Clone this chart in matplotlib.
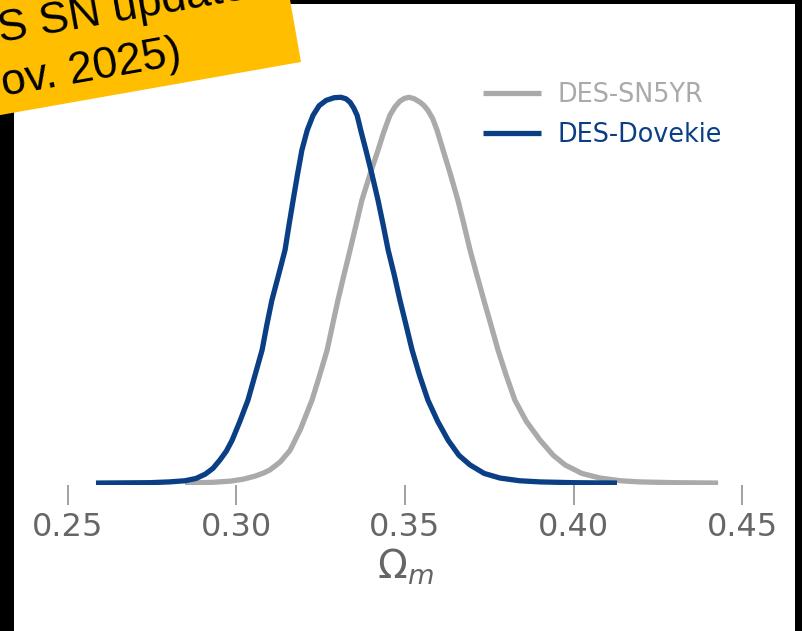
import matplotlib
matplotlib.use("Agg")
import matplotlib.pyplot as plt
from matplotlib.patches import Rectangle, Polygon
import numpy as np

# Omega_m posterior curves (normalised to peak = 1)
om_sn5yr = [0.2847, 0.2930, 0.2981, 0.3020, 0.3055, 0.3080, 0.3099, 0.3130,
            0.3159, 0.3190, 0.3224, 0.3247, 0.3269, 0.3285, 0.3301, 0.3319,
            0.3337, 0.3355, 0.3372, 0.3396, 0.3420, 0.3437, 0.3455, 0.3470,
            0.3485, 0.3498, 0.3512, 0.3528, 0.3545, 0.3557, 0.3568, 0.3582,
            0.3595, 0.3613, 0.3635, 0.3657, 0.3675, 0.3693, 0.3713, 0.3734,
            0.3755, 0.3776, 0.3800, 0.3826, 0.3860, 0.3901, 0.3940, 0.3975,
            0.4025, 0.4079, 0.4140, 0.4197, 0.4300, 0.4429]
p_sn5yr = [0.000, 0.002, 0.005, 0.010, 0.018, 0.026, 0.034, 0.055,
           0.085, 0.140, 0.215, 0.280, 0.345, 0.410, 0.474, 0.540,
           0.604, 0.670, 0.733, 0.800, 0.863, 0.910, 0.953, 0.975,
           0.990, 0.997, 1.000, 0.996, 0.987, 0.978, 0.966, 0.945,
           0.915, 0.863, 0.800, 0.733, 0.670, 0.604, 0.540, 0.474,
           0.410, 0.345, 0.280, 0.215, 0.160, 0.111, 0.072, 0.047,
           0.025, 0.013, 0.006, 0.003, 0.001, 0.000]

om_dovekie = [0.2583, 0.2743, 0.2800, 0.2847, 0.2880, 0.2907, 0.2930, 0.2951,
              0.2970, 0.2987, 0.3010, 0.3034, 0.3055, 0.3076, 0.3090, 0.3105,
              0.3125, 0.3144, 0.3156, 0.3168, 0.3181, 0.3194, 0.3210, 0.3227,
              0.3245, 0.3266, 0.3290, 0.3310, 0.3325, 0.3337, 0.3348, 0.3358,
              0.3370, 0.3384, 0.3402, 0.3420, 0.3435, 0.3450, 0.3468, 0.3485,
              0.3503, 0.3521, 0.3543, 0.3568, 0.3597, 0.3628, 0.3660, 0.3693,
              0.3735, 0.3782, 0.3840, 0.3901, 0.4000, 0.4129]
p_dovekie = [0.000, 0.001, 0.003, 0.006, 0.012, 0.023, 0.038, 0.060,
             0.083, 0.111, 0.160, 0.215, 0.280, 0.345, 0.410, 0.474,
             0.540, 0.604, 0.670, 0.733, 0.800, 0.863, 0.915, 0.953,
             0.978, 0.992, 0.999, 1.000, 0.996, 0.987, 0.972, 0.953,
             0.910, 0.863, 0.800, 0.733, 0.670, 0.604, 0.540, 0.474,
             0.410, 0.345, 0.280, 0.215, 0.160, 0.111, 0.072, 0.047,
             0.025, 0.013, 0.006, 0.003, 0.001, 0.000]

xticks = [0.25, 0.30, 0.35, 0.40, 0.45]
labels = ["DES-SN5YR", "DES-Dovekie"]
banner_lines = ["DES SN update", "(Nov. 2025)"]

grey = "#aaaaaa"
blue = "#0b3f85"
W, H = 803, 631


def fx(px):
    return px / W


def fy(py):
    return 1 - py / H


fig = plt.figure(figsize=(8.03, 6.31), dpi=100, facecolor="black")
# white panel inside the black frame
fig.patches.append(Rectangle((fx(14), 0), fx(795) - fx(14), fy(4),
                             transform=fig.transFigure, fc="white", ec="none", zorder=-1))

ax = fig.add_axes([fx(34.3), fy(485), fx(775.7) - fx(34.3), fy(78) - fy(485)])
ax.set_zorder(1)
ax.set_facecolor("none")
ax.plot(om_sn5yr, p_sn5yr, color=grey, lw=3.8, label=labels[0],
        solid_capstyle="butt", solid_joinstyle="round")
ax.plot(om_dovekie, p_dovekie, color=blue, lw=3.8, label=labels[1],
        solid_capstyle="butt", solid_joinstyle="round")
ax.set_xlim(0.24, 0.46)
ax.set_ylim(-0.005, 1.05)
for s in ax.spines.values():
    s.set_visible(False)
ax.set_yticks([])
ax.set_xticks(xticks)
ax.set_xticklabels([f"{t:.2f}" for t in xticks])
ax.tick_params(axis="x", length=14.4, width=1.1, color="#888888",
               labelcolor="#666666", labelsize=23, pad=5)
ax.set_xlabel(r"$\Omega_m$", fontsize=28, color="#666666", labelpad=3)

leg = fig.legend(loc="upper left", bbox_to_anchor=(fx(473), fy(72)), frameon=False,
                 fontsize=18.4, handlelength=2.25, handletextpad=0.66, labelspacing=0.55,
                 borderaxespad=0, borderpad=0.4, labelcolor="linecolor")
leg.set_zorder(2)

# yellow banner, rotated ~10 degrees, cropped by the top-left corner
ang = np.deg2rad(10)
along = np.array([np.cos(ang), -np.sin(ang)])
up = np.array([-np.sin(ang), -np.cos(ang)])
br = np.array([301.0, 62.0])
tr = br + 200 * up
bl = br - 600 * along
tl = tr - 600 * along
corners = [(fx(p[0]), fy(p[1])) for p in (bl, br, tr, tl)]
banner = Polygon(corners, closed=True, transform=fig.transFigure,
                 fc="#ffbf00", ec="none", zorder=5)
fig.patches.append(banner)

for (px, py), line in zip([(-61.0, 53.0), (-42.5, 104.3)], banner_lines):
    t = fig.text(fx(px), fy(py), line, ha="left", va="baseline", rotation=10,
                 rotation_mode="anchor", fontsize=32, family="Liberation Sans",
                 color="black", zorder=6)
    t.set_clip_path(banner)

fig.savefig("out.png", dpi=100, facecolor=fig.get_facecolor())
